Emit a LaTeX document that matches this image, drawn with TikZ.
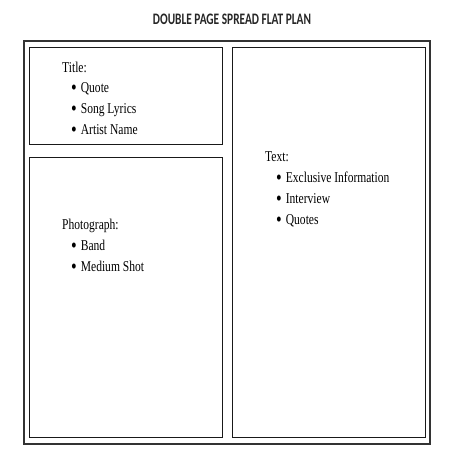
\documentclass[tikz,border=0pt]{standalone}
\usepackage{fontspec}
\setmainfont{Liberation Serif}[FakeStretch=0.77]
\newfontfamily\headfont{Carlito}[FakeStretch=0.71]
\newcommand{\planbullet}{\raisebox{-2pt}{\scalebox{1.4}{\textbullet}}\hspace{4pt}}
\tikzset{
  frame/.style={draw=black!80, line width=1.3pt},
  panel/.style={draw=black!90, line width=1pt},
  heading/.style={anchor=base west, inner sep=0pt, font=\fontsize{15}{18}\selectfont},
  item/.style={anchor=base west, inner sep=0pt, font=\fontsize{15}{18}\selectfont}
}
\begin{document}
\begin{tikzpicture}[x=1pt,y=-1pt]
            \useasboundingbox (0,0) rectangle (452,452);
            \node [inner sep=0pt, anchor=base, font=\headfont\bfseries\fontsize{16}{19}\selectfont, text=black!85] (plantitle) at (232,25) {DOUBLE PAGE SPREAD FLAT PLAN};
            \draw [frame] (24,41) rectangle (430,444);
            \draw [panel] (29,48) rectangle (222,144);
            \draw [panel] (29,157) rectangle (222,437);
            \draw [panel] (232,48) rectangle (425,437);
            % title panel
            \node [heading] (titlehead) at (62,72) {Title:};
            \node [item] (quote) at (71,92.7) {\planbullet Quote};
            \node [item] (lyrics) at (71,113.4) {\planbullet Song Lyrics};
            \node [item] (artist) at (71,134) {\planbullet Artist Name};
            % photograph panel
            \node [heading] (photohead) at (62,229) {Photograph:};
            \node [item] (band) at (71,250.5) {\planbullet Band};
            \node [item] (shot) at (71,271.5) {\planbullet Medium Shot};
            % text panel
            \node [heading] (texthead) at (265,161) {Text:};
            \node [item] (exclusive) at (276,182.5) {\planbullet Exclusive Information};
            \node [item] (interview) at (276,203) {\planbullet Interview};
            \node [item] (quotes) at (276,224) {\planbullet Quotes};
\end{tikzpicture}
\end{document}
